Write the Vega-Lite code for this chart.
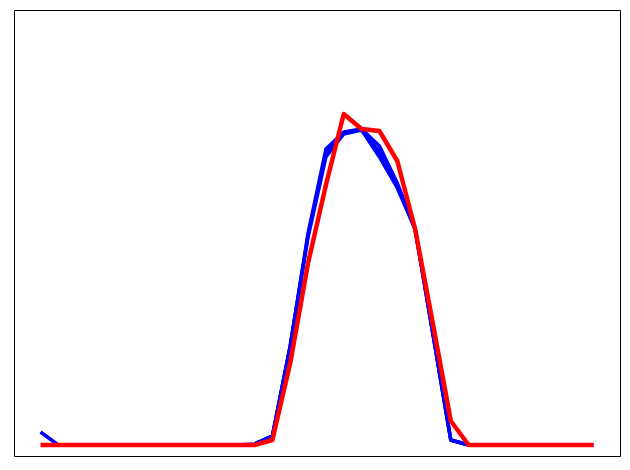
{
  "$schema": "https://vega.github.io/schema/vega-lite/v6.json",
  "width": 606,
  "height": 446,
  "autosize": "none",
  "padding": {"left": 14, "top": 10, "right": 10, "bottom": 14},
  "config": {"view": {"stroke": "black", "strokeWidth": 1}},
  "data": {"values": [
    {"x":0,"y":0.13,"s":"b1"},{"x":1,"y":0,"s":"b1"},{"x":2,"y":0,"s":"b1"},{"x":3,"y":0,"s":"b1"},{"x":4,"y":0,"s":"b1"},{"x":5,"y":0,"s":"b1"},{"x":6,"y":0,"s":"b1"},{"x":7,"y":0,"s":"b1"},{"x":8,"y":0,"s":"b1"},{"x":9,"y":0,"s":"b1"},{"x":10,"y":0,"s":"b1"},{"x":11,"y":0,"s":"b1"},{"x":12,"y":0.01,"s":"b1"},{"x":13,"y":0.09,"s":"b1"},{"x":14,"y":0.99,"s":"b1"},{"x":15,"y":2.12,"s":"b1"},{"x":16,"y":2.96,"s":"b1"},{"x":17,"y":3.13,"s":"b1"},{"x":18,"y":3.16,"s":"b1"},{"x":19,"y":2.99,"s":"b1"},{"x":20,"y":2.62,"s":"b1"},{"x":21,"y":2.16,"s":"b1"},{"x":22,"y":1.11,"s":"b1"},{"x":23,"y":0.05,"s":"b1"},{"x":24,"y":0,"s":"b1"},{"x":25,"y":0,"s":"b1"},{"x":26,"y":0,"s":"b1"},{"x":27,"y":0,"s":"b1"},{"x":28,"y":0,"s":"b1"},{"x":29,"y":0,"s":"b1"},{"x":30,"y":0,"s":"b1"},{"x":31,"y":0,"s":"b1"},
    {"x":12,"y":0.01,"s":"b3"},{"x":13,"y":0.09,"s":"b3"},{"x":14,"y":0.99,"s":"b3"},{"x":15,"y":2.10,"s":"b3"},{"x":16,"y":2.92,"s":"b3"},{"x":17,"y":3.12,"s":"b3"},{"x":18,"y":3.155,"s":"b3"},{"x":19,"y":2.93,"s":"b3"},{"x":20,"y":2.595,"s":"b3"},{"x":21,"y":2.16,"s":"b3"},{"x":22,"y":1.11,"s":"b3"},{"x":23,"y":0.05,"s":"b3"},{"x":24,"y":0,"s":"b3"},
    {"x":12,"y":0.01,"s":"b2"},{"x":13,"y":0.09,"s":"b2"},{"x":14,"y":0.99,"s":"b2"},{"x":15,"y":2.08,"s":"b2"},{"x":16,"y":2.88,"s":"b2"},{"x":17,"y":3.11,"s":"b2"},{"x":18,"y":3.15,"s":"b2"},{"x":19,"y":2.88,"s":"b2"},{"x":20,"y":2.57,"s":"b2"},{"x":21,"y":2.16,"s":"b2"},{"x":22,"y":1.11,"s":"b2"},{"x":23,"y":0.05,"s":"b2"},{"x":24,"y":0,"s":"b2"},
    {"x":0,"y":0,"s":"red"},{"x":1,"y":0,"s":"red"},{"x":2,"y":0,"s":"red"},{"x":3,"y":0,"s":"red"},{"x":4,"y":0,"s":"red"},{"x":5,"y":0,"s":"red"},{"x":6,"y":0,"s":"red"},{"x":7,"y":0,"s":"red"},{"x":8,"y":0,"s":"red"},{"x":9,"y":0,"s":"red"},{"x":10,"y":0,"s":"red"},{"x":11,"y":0,"s":"red"},{"x":12,"y":0,"s":"red"},{"x":13,"y":0.05,"s":"red"},{"x":14,"y":0.82,"s":"red"},{"x":15,"y":1.82,"s":"red"},{"x":16,"y":2.60,"s":"red"},{"x":17,"y":3.31,"s":"red"},{"x":18,"y":3.16,"s":"red"},{"x":19,"y":3.14,"s":"red"},{"x":20,"y":2.84,"s":"red"},{"x":21,"y":2.16,"s":"red"},{"x":22,"y":1.21,"s":"red"},{"x":23,"y":0.24,"s":"red"},{"x":24,"y":0,"s":"red"},{"x":25,"y":0,"s":"red"},{"x":26,"y":0,"s":"red"},{"x":27,"y":0,"s":"red"},{"x":28,"y":0,"s":"red"},{"x":29,"y":0,"s":"red"},{"x":30,"y":0,"s":"red"},{"x":31,"y":0,"s":"red"}
  ]},
  "encoding": {
    "x": {"field": "x", "type": "quantitative", "scale": {"domain": [-1.485, 32.485], "nice": false, "zero": false}, "axis": null},
    "y": {"field": "y", "type": "quantitative", "scale": {"domain": [-0.11, 4.35], "nice": false, "zero": false}, "axis": null},
    "detail": {"field": "s", "type": "nominal"}
  },
  "layer": [
    {
      "transform": [{"filter": "datum.s !== 'red'"}],
      "mark": {"type": "line", "color": "#0000ff", "strokeWidth": 3.5, "strokeJoin": "round", "strokeCap": "butt"}
    },
    {
      "transform": [{"filter": "datum.s === 'red'"}],
      "mark": {"type": "line", "color": "#ff0000", "strokeWidth": 4.5, "strokeJoin": "round", "strokeCap": "butt"}
    }
  ]
}
